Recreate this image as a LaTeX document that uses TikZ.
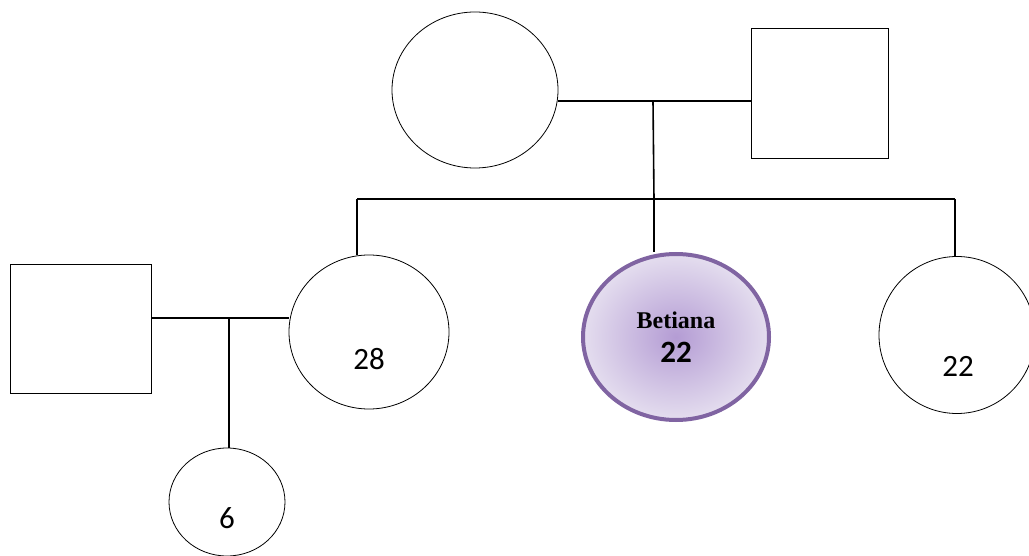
\documentclass[tikz,border=0pt]{standalone}
\usepackage{fontspec}
\setmainfont{Liberation Serif}
\newfontfamily\carlitofont{Carlito}
\usetikzlibrary{shapes.geometric}
\definecolor{betborder}{HTML}{8064A2}
\definecolor{betin}{HTML}{B49CD4}
\definecolor{betout}{HTML}{ECE8F3}
\pgfdeclareradialshading{betshade}{\pgfpointorigin}{color(0bp)=(betin); color(29bp)=(betout); color(50bp)=(betout)}
\tikzset{
  person/.style={draw=black, line width=0.8pt, inner sep=0pt},
  fem/.style={person, ellipse},
  mal/.style={person, rectangle},
  link/.style={draw=black, line width=1.6pt},
  age/.style={font=\carlitofont\fontsize{31}{32}\selectfont},
}
\begin{document}
\begin{tikzpicture}[x=1pt,y=-1pt]
\useasboundingbox (0,0) rectangle (1029,556);
\clip (0,0) rectangle (1029,556);
% grandparents
\node[fem, minimum width=166pt, minimum height=156pt] (gm) at (475,90) {};
\node[mal, minimum width=137pt, minimum height=130pt] (gf) at (819.5,93) {};
% generation 2
\node[fem, minimum width=160pt, minimum height=154pt] (a28) at (369,332) {};
\node[ellipse, draw=betborder, line width=4pt, shading=betshade, minimum width=186pt, minimum height=166pt, inner sep=0pt] (bet) at (676,337) {};
\node[fem, minimum width=156pt, minimum height=157pt] (r22) at (957,335) {};
\node[mal, minimum width=141pt, minimum height=129pt] (lm) at (80.5,328.5) {};
% generation 3
\node[fem, minimum width=116pt, minimum height=108pt] (c6) at (227,502) {};
% labels
\node[age] (t28) at (369,359) {28};
\node[age] (t22) at (958,366) {22};
\node[age] (t6) at (227,518) {6};
\node[font=\bfseries\fontsize{24}{25}\selectfont] (tb) at (676,320) {Betiana};
\node[font=\carlitofont\bfseries\fontsize{31}{32}\selectfont] (tb22) at (676,352) {22};
% connectors
\coordinate (m1) at (653,101);
\coordinate (s1) at (654,199);
\coordinate (sl) at (357,199);
\coordinate (sr) at (955,199);
\coordinate (m2) at (229,318);
\draw[link] (gm.east |- m1) -- (gf.west |- m1);
\draw[link] (m1) -- (s1) -- (s1 |- bet.north);
\draw[link] (sl) -- (sr);
\draw[link] (sl) -- (sl |- a28.north);
\draw[link] (sr) -- (sr |- r22.north);
\draw[link] (lm.east |- m2) -- (a28.west |- m2);
\draw[link] (m2) -- (m2 |- c6.north);
\end{tikzpicture}
\end{document}
